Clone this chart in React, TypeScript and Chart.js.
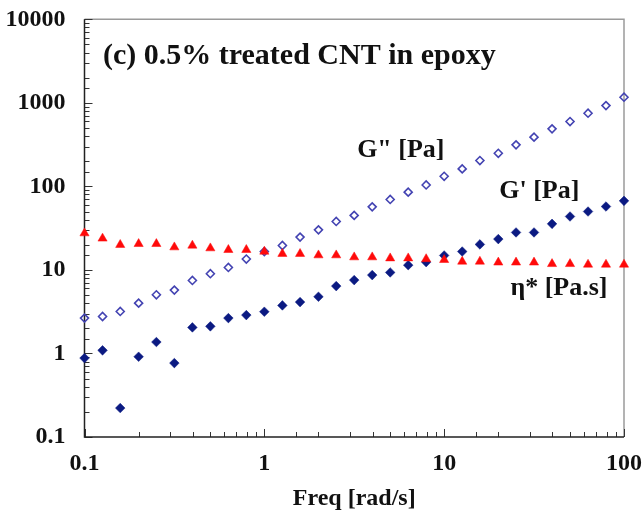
import React, { useEffect, useRef } from "react";
import { Chart, registerables } from "chart.js";

Chart.register(...registerables);

// ---- Data ----
const freq = [
  0.1, 0.126, 0.158, 0.2, 0.251, 0.316, 0.398, 0.501, 0.631, 0.794,
  1, 1.26, 1.58, 2, 2.51, 3.16, 3.98, 5.01, 6.31, 7.94,
  10, 12.6, 15.8, 20, 25.1, 31.6, 39.8, 50.1, 63.1, 79.4, 100,
];

const gDoublePrime = [
  2.65, 2.77, 3.18, 4.0, 5.04, 5.73, 7.48, 9.0, 10.7, 13.5,
  16.6, 19.6, 24.7, 30.2, 38, 44.9, 56.9, 69.7, 85.3, 104,
  132, 162, 204, 249, 314, 388, 488, 597, 751, 927, 1167,
];

const gPrime = [
  0.88, 1.09, 0.222, 0.914, 1.37, 0.767, 2.05, 2.11, 2.65, 2.88,
  3.16, 3.76, 4.12, 4.77, 6.4, 7.55, 8.67, 9.33, 11.4, 12.4,
  14.9, 16.6, 20.2, 23.4, 28.1, 28.1, 35.6, 43.6, 50, 57.4, 67.1,
];

const etaStar = [
  27.5, 23.8, 20.0, 20.5, 20.5, 18.7, 19.6, 18.2, 17.4, 17.4,
  16.6, 15.6, 15.6, 15.0, 15.0, 14.2, 14.2, 13.8, 13.8, 13.5,
  13.2, 12.6, 12.6, 12.3, 12.3, 12.3, 11.8, 11.8, 11.6, 11.6, 11.6,
];

const xRange = [0.1, 100];
const yRange = [0.1, 10000];

const chartTitle = "(c) 0.5% treated CNT in epoxy";
const xAxisTitle = "Freq [rad/s]";
const seriesLabels = ['G" [Pa]', "G' [Pa]", "η* [Pa.s]"];
// data-space anchors of the in-plot labels
const labelAnchorX = [5.74, 33.8, 43.5];
const labelAnchorY = [273, 88, 6.1];
const titleAnchor = [0.1267, 3640];

const FONT = "'Liberation Serif', 'Times New Roman', Times, serif";

const isDecade = (v: number) =>
  Math.abs(Math.log10(v) - Math.round(Math.log10(v))) < 1e-6;

const frameAndLabels = {
  id: "frameAndLabels",
  beforeDatasetsDraw(chart: any) {
    const { ctx, chartArea: a, scales } = chart;
    const xs = scales.x;
    const ys = scales.y;
    ctx.save();
    // top & right border (grey)
    ctx.strokeStyle = "#9a9a9a";
    ctx.lineWidth = 1.5;
    ctx.beginPath();
    ctx.moveTo(a.left, a.top);
    ctx.lineTo(a.right, a.top);
    ctx.lineTo(a.right, a.bottom);
    ctx.stroke();
    // inward ticks
    ctx.strokeStyle = "#333";
    ctx.lineWidth = 1;
    ctx.beginPath();
    for (const t of xs.ticks) {
      const v = t.value;
      if (v < xRange[0] * 0.999 || v > xRange[1] * 1.001) continue;
      const px = Math.round(xs.getPixelForValue(v)) + 0.5;
      const len = isDecade(v) ? 8 : 5;
      ctx.moveTo(px, a.bottom);
      ctx.lineTo(px, a.bottom - len);
    }
    for (const t of ys.ticks) {
      const v = t.value;
      if (v < yRange[0] * 0.999 || v > yRange[1] * 1.001) continue;
      const py = Math.round(ys.getPixelForValue(v)) + 0.5;
      const len = isDecade(v) ? 8 : 5;
      ctx.moveTo(a.left, py);
      ctx.lineTo(a.left + len, py);
    }
    ctx.stroke();
    // left & bottom axes
    ctx.strokeStyle = "#222";
    ctx.lineWidth = 1.5;
    ctx.beginPath();
    ctx.moveTo(a.left, a.top);
    ctx.lineTo(a.left, a.bottom);
    ctx.lineTo(a.right, a.bottom);
    ctx.stroke();
    ctx.restore();
  },
  afterDraw(chart: any) {
    const { ctx, scales } = chart;
    const xs = scales.x;
    const ys = scales.y;
    ctx.save();
    ctx.fillStyle = "#111";
    ctx.textBaseline = "middle";
    ctx.font = `bold 30px ${FONT}`;
    ctx.textAlign = "left";
    ctx.fillText(chartTitle, xs.getPixelForValue(titleAnchor[0]), ys.getPixelForValue(titleAnchor[1]));
    ctx.font = `bold 26px ${FONT}`;
    ctx.textAlign = "center";
    seriesLabels.forEach((txt, i) => {
      ctx.fillText(txt, xs.getPixelForValue(labelAnchorX[i]), ys.getPixelForValue(labelAnchorY[i]));
    });
    ctx.restore();
  },
};

export default function App() {
  const canvasRef = useRef<HTMLCanvasElement | null>(null);

  useEffect(() => {
    if (!canvasRef.current) return;
    const pts = (ys: number[]) => freq.map((f, i) => ({ x: f, y: ys[i] }));
    const chart = new Chart(canvasRef.current, {
      type: "scatter",
      data: {
        datasets: [
          {
            label: seriesLabels[2],
            data: pts(etaStar),
            pointStyle: "triangle",
            pointRadius: 5.3,
            backgroundColor: "#ff0a0a",
            borderColor: "#ff0a0a",
            borderWidth: 0.5,
            clip: false as any,
          },
          {
            label: seriesLabels[0],
            data: pts(gDoublePrime),
            pointStyle: "rectRot",
            pointRadius: 4,
            backgroundColor: "rgba(255,255,255,0)",
            borderColor: "#4343b2",
            borderWidth: 1.6,
            clip: false as any,
          },
          {
            label: seriesLabels[1],
            data: pts(gPrime),
            pointStyle: "rectRot",
            pointRadius: 4.8,
            backgroundColor: "#0b1a82",
            borderColor: "#0b1a82",
            borderWidth: 0.5,
            clip: false as any,
          },
        ],
      },
      options: {
        animation: false,
        responsive: true,
        maintainAspectRatio: false,
        layout: { padding: { top: 19.3, right: 20, left: 0, bottom: 0 } },
        plugins: {
          legend: { display: false },
          tooltip: { enabled: false },
        },
        scales: {
          x: {
            type: "logarithmic",
            min: xRange[0],
            max: xRange[1],
            grid: { display: false },
            border: { display: false },
            ticks: {
              autoSkip: false,
              maxRotation: 0,
              padding: 4,
              color: "#111",
              font: { family: FONT, size: 24, weight: "bold" },
              callback: (v: any) => (isDecade(Number(v)) ? String(Number(v)) : ""),
            },
            title: {
              display: true,
              text: xAxisTitle,
              color: "#111",
              font: { family: FONT, size: 24, weight: "bold" },
              padding: { top: 0, bottom: 2 },
            },
            afterFit: (s: any) => {
              s.height = 78;
              s.paddingLeft = 0;
              s.paddingRight = 0;
            },
          },
          y: {
            type: "logarithmic",
            min: yRange[0],
            max: yRange[1],
            grid: { display: false },
            border: { display: false },
            ticks: {
              autoSkip: false,
              padding: 11,
              color: "#111",
              font: { family: FONT, size: 24, weight: "bold" },
              callback: (v: any) => (isDecade(Number(v)) ? String(Number(v)) : ""),
            },
            afterFit: (s: any) => {
              s.width = 84.5;
              s.paddingTop = 0;
              s.paddingBottom = 0;
            },
          },
        },
      },
      plugins: [frameAndLabels],
    });
    return () => chart.destroy();
  }, []);

  return (
    <div style={{ position: "fixed", left: 0, top: 0, width: 644, height: 515, background: "#fff" }}>
      <canvas ref={canvasRef} />
    </div>
  );
}
